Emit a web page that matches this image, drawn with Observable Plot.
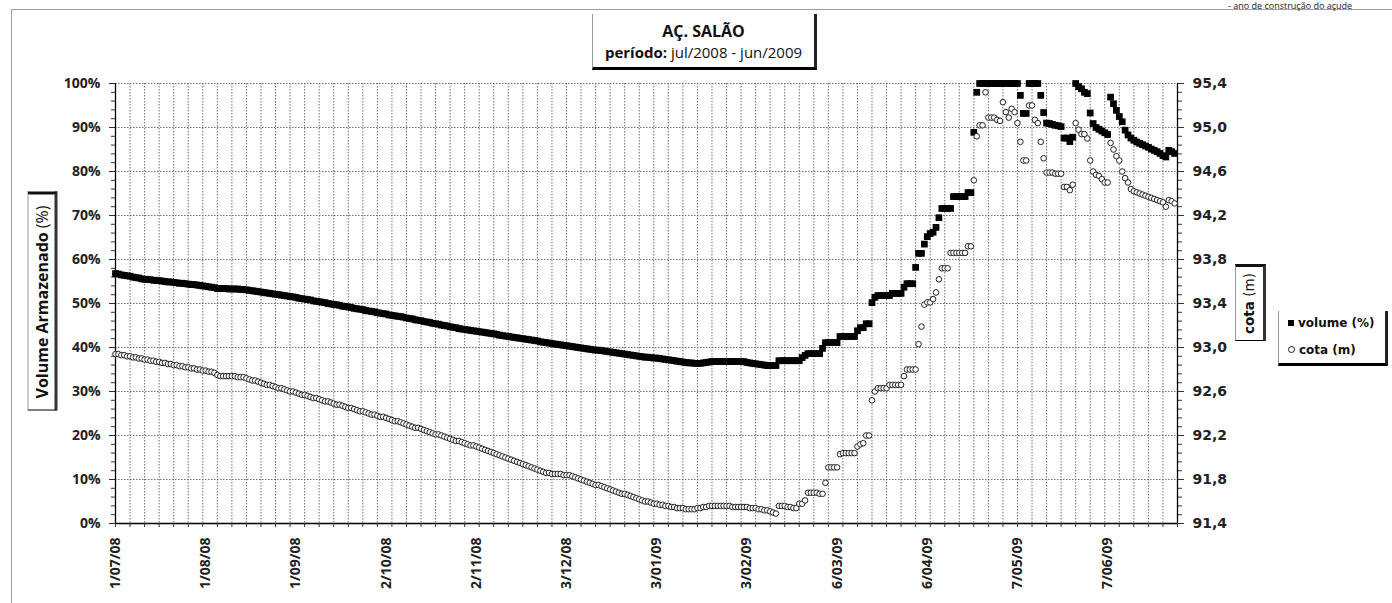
<!DOCTYPE html>
<html><head><meta charset="utf-8">
<script src="https://cdn.jsdelivr.net/npm/d3@7"></script>
<script src="https://cdn.jsdelivr.net/npm/@observablehq/plot@0.6"></script>
<style>
body{margin:0;background:#fff;}
#wrap{position:relative;width:1392px;height:603px;overflow:hidden;font-family:"Open Sans",sans-serif;color:#111;}
#chart{position:absolute;left:0;top:0;}
.hline{position:absolute;left:11px;top:9px;width:1381px;border-top:1px solid #a0a0a0;}
.vline{position:absolute;left:11px;top:9px;height:594px;border-left:1px solid #a0a0a0;}
.note{position:absolute;left:1228px;top:1px;font-size:9px;line-height:9px;white-space:nowrap;color:#222;}
.box{position:absolute;background:#fff;box-sizing:border-box;}
#title{left:592px;top:14px;width:225px;height:56px;border-left:1px solid #999;border-right:3px solid #222;border-bottom:3px solid #000;text-align:center;padding-top:7px;}
#title .l1{font-weight:700;font-size:16px;line-height:21px;}
#title .l2{font-size:15px;line-height:21px;}
#ytitle{width:219px;height:30px;left:-67px;top:286px;transform:rotate(-90deg);border-top:1px solid #999;border-left:1px solid #000;border-right:3px solid #111;border-bottom:3px solid #333;text-align:center;font-size:16px;line-height:26px;white-space:nowrap;}
#ctitle{width:77px;height:31px;left:1212px;top:287px;transform:rotate(-90deg);border-top:1px solid #999;border-left:1px solid #000;border-right:3px solid #111;border-bottom:3px solid #333;text-align:center;font-family:"DejaVu Sans",sans-serif;font-size:13.5px;line-height:27px;white-space:nowrap;}
#legend{left:1278px;top:311px;width:110px;height:55px;border-left:1px solid #999;border-right:3px solid #222;border-bottom:3px solid #000;font-family:"DejaVu Sans",sans-serif;font-weight:700;font-size:12px;}
#legend .row{position:absolute;left:9px;white-space:nowrap;line-height:14px;}
#legend .sq{display:inline-block;width:6px;height:6px;background:#000;margin-right:4px;vertical-align:1px;}
#legend .ci{display:inline-block;width:5px;height:5px;border:1px solid #222;border-radius:50%;margin-right:4px;vertical-align:1px;}
</style></head><body>
<div id="wrap">
  <div id="chart"></div>
  <div class="hline"></div>
  <div class="vline"></div>
  <div class="note">- ano de construção do açude</div>
  <div class="box" id="title"><div class="l1">AÇ. SALÃO</div><div class="l2"><b>período:</b> jul/2008 - jun/2009</div></div>
  <div class="box" id="ytitle"><b>Volume Armazenado</b> (%)</div>
  <div class="box" id="ctitle"><b>cota</b> (m)</div>
  <div class="box" id="legend">
    <div class="row" style="top:5px"><span class="sq"></span>volume (%)</div>
    <div class="row" style="top:32px"><span class="ci"></span>cota (m)</div>
  </div>
</div>
<script>
// ---- data (one value per day, starting 1 Jul 2008) ----
const startDate = "2008-07-01";
const volume = [
56.8,56.7,56.5,56.4,56.3,56.2,56.0,55.9,55.8,55.6,
55.5,55.5,55.4,55.3,55.2,55.2,55.1,55.0,54.9,54.9,
54.8,54.7,54.6,54.6,54.5,54.4,54.3,54.3,54.2,54.1,
54.0,53.9,53.8,53.7,53.6,53.4,53.4,53.4,53.4,53.3,
53.3,53.3,53.3,53.2,53.2,53.1,53.0,52.9,52.8,52.7,
52.6,52.5,52.4,52.3,52.2,52.1,52.0,51.9,51.8,51.7,
51.6,51.5,51.4,51.2,51.1,51.0,50.9,50.8,50.6,50.5,
50.4,50.3,50.2,50.0,49.9,49.8,49.7,49.6,49.4,49.3,
49.2,49.1,48.9,48.8,48.7,48.6,48.4,48.3,48.2,48.1,
47.9,47.8,47.7,47.6,47.4,47.3,47.2,47.1,47.0,46.9,
46.7,46.6,46.5,46.3,46.2,46.1,45.9,45.8,45.7,45.5,
45.4,45.3,45.1,45.0,44.9,44.7,44.6,44.5,44.3,44.2,
44.1,44.0,43.9,43.8,43.7,43.6,43.5,43.4,43.3,43.2,
43.1,43.0,42.8,42.7,42.6,42.5,42.4,42.3,42.2,42.1,
42.0,41.9,41.8,41.7,41.6,41.5,41.3,41.2,41.1,41.0,
40.9,40.8,40.7,40.6,40.5,40.4,40.3,40.2,40.1,40.0,
39.9,39.8,39.7,39.6,39.5,39.4,39.4,39.3,39.2,39.1,
39.0,38.9,38.8,38.7,38.6,38.5,38.4,38.3,38.2,38.1,
38.0,37.9,37.8,37.8,37.7,37.6,37.6,37.5,37.4,37.3,
37.2,37.1,37.0,36.9,36.8,36.7,36.6,36.5,36.5,36.4,
36.4,36.4,36.5,36.6,36.7,36.8,36.8,36.8,36.8,36.8,
36.8,36.8,36.8,36.8,36.8,36.8,36.8,36.6,36.5,36.4,
36.3,36.2,36.1,36.0,35.9,35.9,35.9,35.9,37.0,37.0,
37.0,37.0,37.0,37.0,37.0,37.0,37.7,38.2,38.6,38.6,
38.6,38.6,38.6,39.8,41.1,41.1,41.1,41.1,41.1,42.5,
42.5,42.5,42.5,42.5,42.5,43.8,44.5,44.5,45.4,45.4,
50.2,51.4,51.8,51.8,51.8,51.8,51.8,52.3,52.3,52.3,
52.3,53.7,54.5,54.5,54.5,58.2,61.4,61.4,63.5,65.2,
65.9,66.2,67.3,69.5,71.6,71.6,71.6,71.6,74.3,74.3,
74.3,74.3,74.3,75.2,75.2,88.9,98.0,100,100,100,
100,100,100,100,100,100,100,100,100,100,
100,97.3,93.2,93.2,100,100,100,100,97.3,93.4,
91.0,90.9,90.7,90.5,90.4,90.2,87.6,87.6,86.8,87.8,
100,99.3,98.8,98.0,97.7,93.3,90.9,90.0,89.6,89.2,
88.8,88.4,96.9,95.4,93.9,92.5,91.3,89.4,88.3,87.6,
87.1,86.7,86.4,86.1,85.8,85.5,85.1,84.8,84.5,84.1,
83.6,83.3,84.8,84.5,84.1
];
const cota = [
92.94,92.94,92.93,92.93,92.92,92.92,92.91,92.91,92.90,92.90,
92.89,92.89,92.88,92.88,92.87,92.87,92.86,92.86,92.85,92.85,
92.84,92.84,92.83,92.83,92.82,92.82,92.81,92.81,92.80,92.80,
92.79,92.79,92.78,92.78,92.77,92.75,92.74,92.74,92.74,92.74,
92.74,92.74,92.73,92.73,92.73,92.72,92.71,92.70,92.70,92.69,
92.68,92.67,92.66,92.66,92.65,92.64,92.63,92.63,92.62,92.61,
92.60,92.60,92.59,92.58,92.57,92.57,92.56,92.55,92.54,92.54,
92.53,92.52,92.51,92.51,92.50,92.49,92.48,92.48,92.47,92.46,
92.45,92.45,92.44,92.43,92.42,92.42,92.41,92.40,92.39,92.39,
92.38,92.37,92.37,92.36,92.35,92.34,92.33,92.33,92.32,92.31,
92.30,92.29,92.28,92.27,92.27,92.26,92.25,92.24,92.23,92.22,
92.21,92.21,92.20,92.19,92.18,92.17,92.16,92.15,92.15,92.14,
92.13,92.12,92.11,92.11,92.10,92.09,92.08,92.07,92.06,92.05,
92.04,92.03,92.02,92.01,92.00,91.99,91.98,91.97,91.96,91.95,
91.94,91.93,91.92,91.91,91.90,91.89,91.88,91.87,91.86,91.86,
91.85,91.85,91.85,91.85,91.84,91.84,91.84,91.83,91.82,91.81,
91.80,91.79,91.78,91.77,91.76,91.75,91.75,91.74,91.73,91.72,
91.71,91.70,91.69,91.68,91.67,91.67,91.66,91.65,91.64,91.63,
91.62,91.61,91.60,91.60,91.59,91.58,91.58,91.57,91.57,91.56,
91.56,91.55,91.55,91.54,91.54,91.54,91.53,91.53,91.53,91.53,
91.54,91.54,91.55,91.55,91.56,91.56,91.56,91.56,91.56,91.56,
91.56,91.56,91.55,91.55,91.55,91.55,91.55,91.55,91.54,91.54,
91.54,91.53,91.53,91.52,91.52,91.51,91.50,91.49,91.56,91.56,
91.56,91.55,91.55,91.54,91.54,91.58,91.58,91.61,91.68,91.68,
91.68,91.68,91.67,91.67,91.77,91.91,91.91,91.91,91.91,92.03,
92.04,92.04,92.04,92.04,92.04,92.10,92.12,92.13,92.20,92.20,
92.52,92.60,92.63,92.63,92.63,92.63,92.66,92.66,92.66,92.66,
92.66,92.74,92.80,92.80,92.80,92.80,93.03,93.19,93.39,93.41,
93.41,93.44,93.50,93.62,93.72,93.72,93.72,93.86,93.86,93.86,
93.86,93.86,93.86,93.92,93.92,94.52,94.92,95.02,95.02,95.32,
95.09,95.09,95.09,95.07,95.06,95.23,95.14,95.09,95.17,95.14,
95.04,94.87,94.70,94.70,95.20,95.20,95.07,95.04,94.87,94.72,
94.59,94.59,94.59,94.58,94.58,94.58,94.46,94.46,94.43,94.48,
95.04,94.98,94.94,94.94,94.90,94.70,94.60,94.57,94.56,94.53,
94.50,94.50,94.86,94.80,94.74,94.70,94.60,94.54,94.50,94.44,
94.42,94.41,94.40,94.39,94.38,94.37,94.36,94.35,94.34,94.33,
94.32,94.28,94.34,94.33,94.31
];
const xTickDates = ["2008-07-01","2008-08-01","2008-09-01","2008-10-02","2008-11-02","2008-12-03",
                    "2009-01-03","2009-02-03","2009-03-06","2009-04-06","2009-05-07","2009-06-07"];
const xTickLabels = ["1/07/08","1/08/08","1/09/08","2/10/08","2/11/08","3/12/08",
                     "3/01/09","3/02/09","6/03/09","6/04/09","7/05/09","7/06/09"];
const yTicks = [0,10,20,30,40,50,60,70,80,90,100];
const yTickLabels = ["0%","10%","20%","30%","40%","50%","60%","70%","80%","90%","100%"];
const yMinorTicks = [2,4,6,8,12,14,16,18,22,24,26,28,32,34,36,38,42,44,46,48,52,54,56,58,62,64,66,68,72,74,76,78,82,84,86,88,92,94,96,98];
const cotaTicks = [91.4,91.8,92.2,92.6,93.0,93.4,93.8,94.2,94.6,95.0,95.4];
const cotaTickLabels = ["91,4","91,8","92,2","92,6","93,0","93,4","93,8","94,2","94,6","95,0","95,4"];
const cotaMin = 91.4, cotaMax = 95.4;
const gridStepDays = 5, axisDays = 365;

// ---- build ----
const parse = d3.utcParse("%Y-%m-%d");
const t0 = parse(startDate);
const dayAt = i => d3.utcDay.offset(t0, i);
const toPct = c => (c - cotaMin) / (cotaMax - cotaMin) * 100;
const volData = volume.map((v, i) => ({date: dayAt(i), v}));
const cotaData = cota.map((c, i) => ({date: dayAt(i), y: toPct(c)}));
const gridDates = d3.range(0, axisDays + 1, gridStepDays).map(dayAt);
const xTicks = xTickDates.map(parse);
const xLabelMap = new Map(xTicks.map((d, i) => [+d, xTickLabels[i]]));
const yLabelMap = new Map(yTicks.map((t, i) => [t, yTickLabels[i]]));
const cotaPos = cotaTicks.map(toPct);
const cotaLabelMap = new Map(cotaPos.map((p, i) => [p, cotaTickLabels[i]]));
const cotaMinor = d3.range(0, 51).map(k => cotaMin + k * 0.08).map(toPct);
const xDomain = [t0, dayAt(axisDays)];

const gridStyle = {stroke: "#707070", strokeWidth: 1, strokeDasharray: "1.5,1.5"};
const chart = Plot.plot({
  width: 1392, height: 603,
  marginLeft: 115, marginRight: 215, marginTop: 83, marginBottom: 80,
  x: {type: "utc", domain: xDomain},
  y: {domain: [0, 100]},
  style: {background: "transparent", color: "#111", fontFamily: "'Open Sans', sans-serif"},
  marks: [
    Plot.ruleY(yTicks, gridStyle),
    Plot.ruleX(gridDates, gridStyle),
    Plot.ruleX([xDomain[0], xDomain[1]], {stroke: "#000", strokeWidth: 1.3}),
    Plot.ruleY([0], {stroke: "#000", strokeWidth: 1.5}),
    Plot.axisY(yMinorTicks, {anchor: "left", tickSize: 4, tickFormat: () => "", stroke: "#333"}),
    Plot.axisY(yTicks, {anchor: "left", tickSize: 6, tickPadding: 9, tickFormat: d => yLabelMap.get(d),
      fontSize: 14, fontWeight: "bold", fontFamily: "'Open Sans', sans-serif", fill: "#222", stroke: "#333"}),
    Plot.axisY(cotaMinor, {anchor: "right", tickSize: 4, tickFormat: () => "", stroke: "#333"}),
    Plot.axisY(cotaPos, {anchor: "right", tickSize: 6, tickPadding: 9, tickFormat: d => cotaLabelMap.get(d),
      fontSize: 14, fontWeight: "bold", fontFamily: "'DejaVu Sans', sans-serif", fill: "#222", stroke: "#333"}),
    Plot.axisX(gridDates, {anchor: "bottom", tickSize: 4, tickFormat: () => "", stroke: "#333"}),
    Plot.axisX(xTicks, {anchor: "bottom", tickSize: 0, tickPadding: 14, tickRotate: -90,
      tickFormat: d => xLabelMap.get(+d), fontSize: 14, fontWeight: "bold",
      fontFamily: "'Open Sans', sans-serif", fill: "#222"}),
    Plot.dot(volData, {x: "date", y: "v", symbol: "square", r: 3.8, fill: "#000", stroke: "none"}),
    Plot.dot(cotaData, {x: "date", y: "y", r: 2.8, fill: "#fff", stroke: "#222", strokeWidth: 1})
  ]
});
document.getElementById("chart").appendChild(chart);
</script>
</body></html>
